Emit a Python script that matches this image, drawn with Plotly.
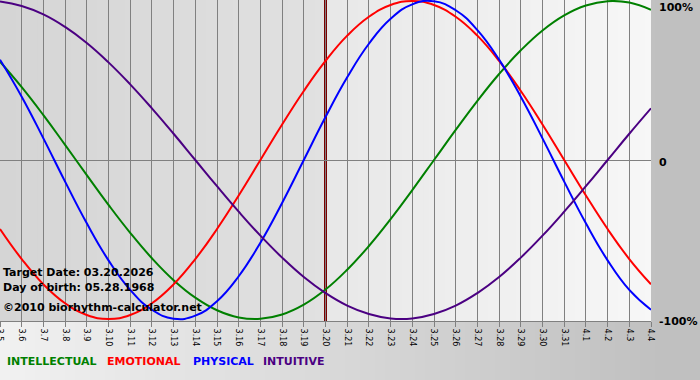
import plotly.graph_objects as go

# ---- data ----
dates = ["3.5", "3.6", "3.7", "3.8", "3.9", "3.10", "3.11", "3.12", "3.13", "3.14",
         "3.15", "3.16", "3.17", "3.18", "3.19", "3.20", "3.21", "3.22", "3.23", "3.24",
         "3.25", "3.26", "3.27", "3.28", "3.29", "3.30", "3.31", "4.1", "4.2", "4.3", "4.4"]
intellectual = [0.618, 0.458, 0.282, 0.095, -0.095, -0.282, -0.458, -0.618, -0.756, -0.866,
                -0.945, -0.990, -0.999, -0.972, -0.910, -0.815, -0.690, -0.541, -0.372, -0.189,
                0.000, 0.189, 0.372, 0.541, 0.690, 0.815, 0.910, 0.972, 0.999, 0.990, 0.945]
emotional = [-0.434, -0.623, -0.782, -0.901, -0.975, -1.000, -0.975, -0.901, -0.782, -0.623,
             -0.434, -0.223, 0.000, 0.223, 0.434, 0.623, 0.782, 0.901, 0.975, 1.000,
             0.975, 0.901, 0.782, 0.623, 0.434, 0.223, 0.000, -0.223, -0.434, -0.623, -0.782]
physical = [0.631, 0.398, 0.136, -0.136, -0.398, -0.631, -0.817, -0.942, -0.998, -0.979,
            -0.888, -0.731, -0.520, -0.270, 0.000, 0.270, 0.520, 0.731, 0.888, 0.979,
            0.998, 0.942, 0.817, 0.631, 0.398, 0.136, -0.136, -0.398, -0.631, -0.817, -0.942]
intuitive = [0.997, 0.969, 0.916, 0.837, 0.736, 0.614, 0.476, 0.325, 0.165, 0.000,
             -0.165, -0.325, -0.476, -0.614, -0.736, -0.837, -0.916, -0.969, -0.997, -0.997,
             -0.969, -0.916, -0.837, -0.736, -0.614, -0.476, -0.325, -0.165, 0.000, 0.165, 0.325]
series_names = ["INTELLECTUAL", "EMOTIONAL", "PHYSICAL", "INTUITIVE"]
target_date = "3.20"
info_lines = ["Target Date: 03.20.2026", "Day of birth: 05.28.1968", "\u00a92010 biorhythm-calculator.net"]
right_labels = ["100%", "0", "-100%"]

# ---- styling ----
W, H = 700, 380
ML, MR, MT, MB = 0, 49, 0, 59
PW, PH = W - ML - MR, H - MT - MB
FONT = "DejaVu Sans"
colors = {"INTELLECTUAL": "#008000", "EMOTIONAL": "#ff0000",
          "PHYSICAL": "#0000ff", "INTUITIVE": "#4b0082"}
xs = list(range(len(dates)))
n = len(dates) - 1
tidx = dates.index(target_date)

def px2x(px):
    return (px - ML) / PW

def py2y(py):
    return (MT + PH - py) / PH

def grey(v):
    v = int(round(v))
    return f"rgb({v},{v},{v})"

shapes = []
# paper gradient (horizontal)
step = 5
for p in range(0, W, step):
    v = 241 - (241 - 192) * min(1.0, p / 660)
    shapes.append(dict(type="rect", xref="paper", yref="paper",
                       x0=px2x(p), x1=px2x(p + step + 1), y0=py2y(H), y1=py2y(0),
                       fillcolor=grey(v), line=dict(width=0), layer="below"))
# plot area shading
k = 0.25
t = 0.0
while t < n:
    if t < tidx:
        v = 213 + (225 - 213) * (t / tidx)
    else:
        v = 232 + (247 - 232) * ((t - tidx) / (n - tidx))
    shapes.append(dict(type="rect", xref="x", yref="paper",
                       x0=t, x1=min(t + k + 0.05, n), y0=0, y1=1,
                       fillcolor=grey(v), line=dict(width=0), layer="below"))
    t += k
# target date line
shapes.append(dict(type="line", xref="x", yref="paper", x0=tidx, x1=tidx, y0=0, y1=1,
                   line=dict(color="#7a0000", width=3), layer="between"))

fig = go.Figure()
for name, vals in zip(series_names, [intellectual, emotional, physical, intuitive]):
    fig.add_trace(go.Scatter(x=xs, y=vals, mode="lines", name=name,
                             line=dict(color=colors[name], width=2, shape="spline", smoothing=1.3),
                             hoverinfo="skip"))

annotations = []
for txt, py in zip(right_labels, [7, 163, 322]):
    annotations.append(dict(text=txt, xref="paper", yref="paper", x=px2x(657), y=py2y(py),
                            xanchor="left", yanchor="middle", showarrow=False,
                            font=dict(family=FONT, size=11, color="#000000", weight="bold")))
for txt, py in zip(info_lines, [272, 287, 307]):
    annotations.append(dict(text=txt, xref="paper", yref="paper", x=px2x(1), y=py2y(py),
                            xanchor="left", yanchor="middle", showarrow=False,
                            font=dict(family=FONT, size=11, color="#000000", weight="bold")))
for name, pxl in zip(series_names, [5, 105, 191, 261]):
    annotations.append(dict(text=name, xref="paper", yref="paper", x=px2x(pxl), y=py2y(362),
                            xanchor="left", yanchor="middle", showarrow=False,
                            font=dict(family=FONT, size=11, color=colors[name], weight="bold")))

fig.update_layout(
    width=W, height=H, autosize=False,
    margin=dict(l=ML, r=MR, t=MT, b=MB, pad=0, autoexpand=False),
    paper_bgcolor="rgba(0,0,0,0)", plot_bgcolor="rgba(0,0,0,0)",
    showlegend=False, shapes=shapes, annotations=annotations,
    xaxis=dict(range=[0, n], tickmode="array", tickvals=xs, ticktext=dates, tickangle=90,
               showgrid=True, gridcolor="#808080", gridwidth=1, zeroline=False,
               ticks="outside", ticklen=5, tickcolor="#808080", tickwidth=1,
               showline=True, linecolor="#808080", linewidth=1,
               ticklabeloverflow="allow", automargin=False,
               tickfont=dict(family=FONT, size=8, color="#000000"), fixedrange=True),
    yaxis=dict(range=[-1.0126, 1.0063], showgrid=False, zeroline=True,
               zerolinecolor="#808080", zerolinewidth=1, showticklabels=False,
               ticks="", fixedrange=True, automargin=False),
)
fig.write_html("out.html", config={"displayModeBar": False},
               post_script="document.body.style.margin='0';document.body.style.padding='0';document.body.style.overflow='hidden';")
